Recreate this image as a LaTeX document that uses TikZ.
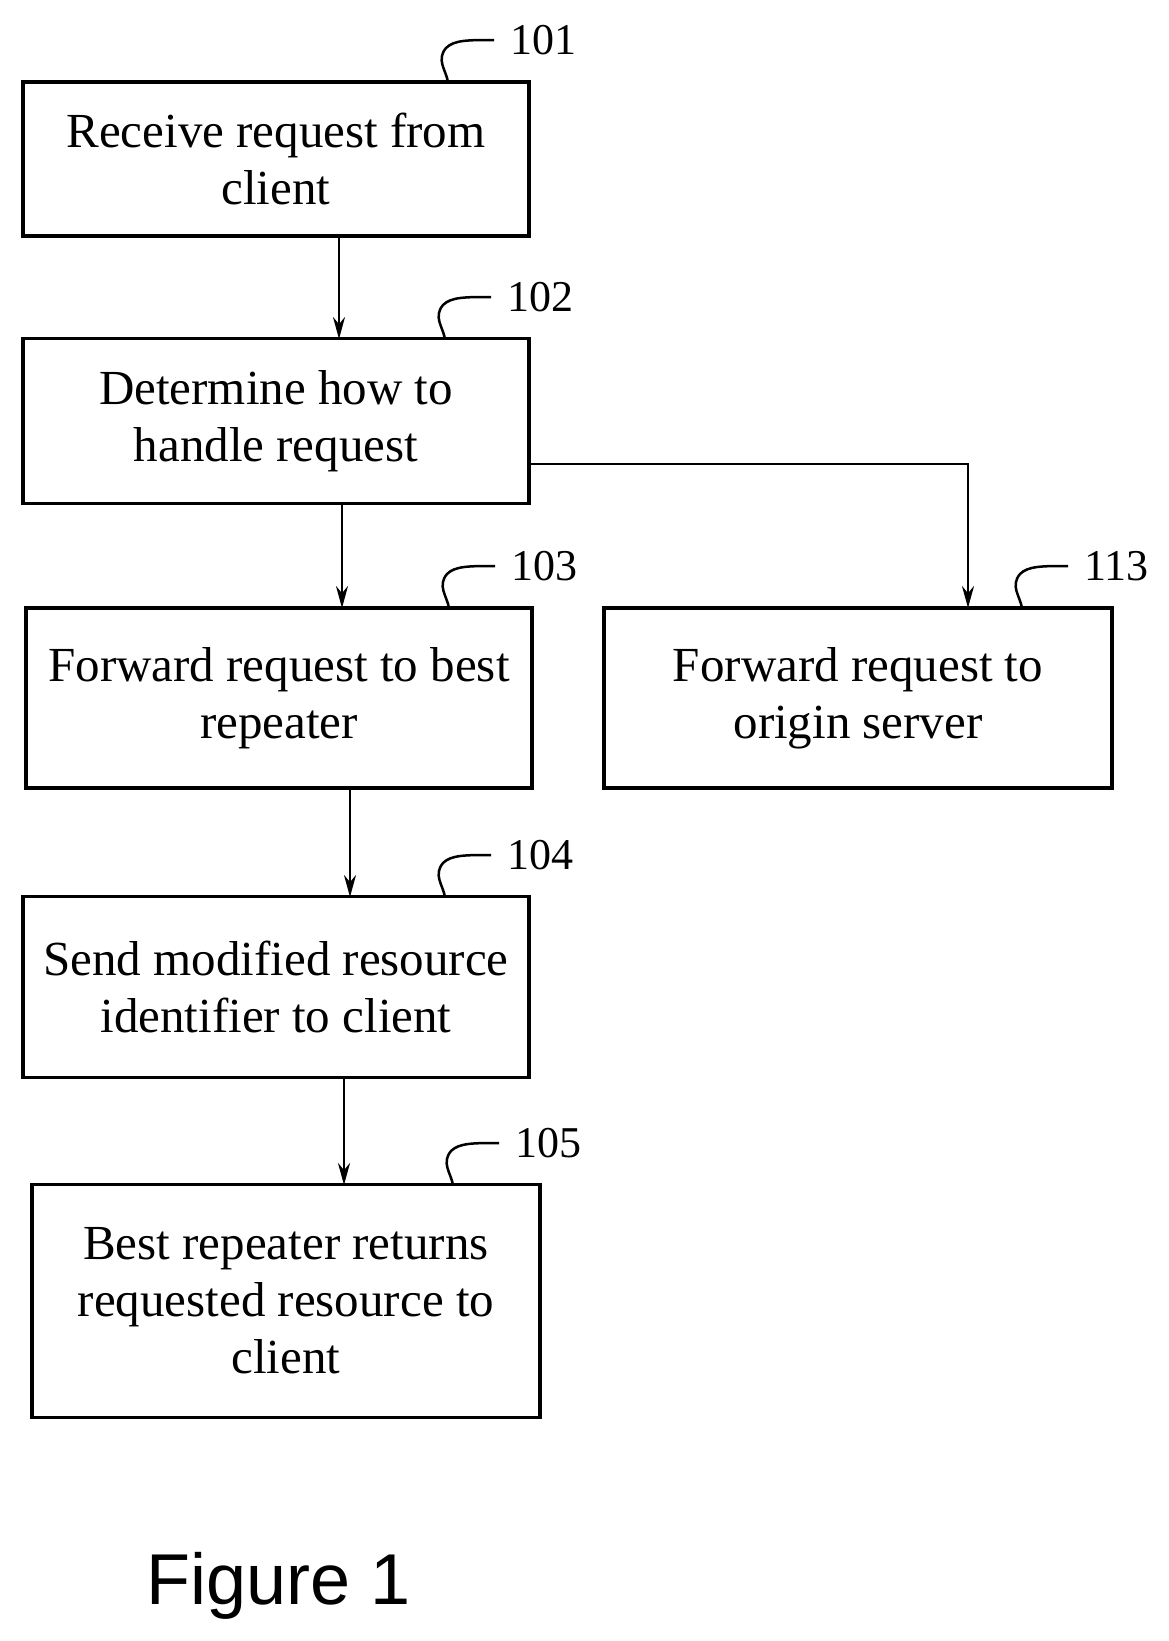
\documentclass[tikz,border=0pt]{standalone}
\usepackage{fontspec}
\usetikzlibrary{arrows.meta}
\setmainfont{Liberation Serif}
\setsansfont{Liberation Sans}
\begin{document}
\begin{tikzpicture}[x=1pt,y=-1pt,
 box/.style={draw,line width=3.5pt,inner sep=0pt,align=center,font=\fontsize{49}{57}\selectfont},
 arr/.style={line width=2.5pt,-{Stealth[length=22pt,width=12pt]}},
 lab/.style={font=\fontsize{44}{44}\selectfont,anchor=west,inner sep=0pt}]
\useasboundingbox (0,0) rectangle (1168,1641);
\node[box,minimum width=506pt,minimum height=154pt] (b1) at (276,159) {Receive request from\\client};
\node[box,minimum width=506pt,minimum height=165pt] (b2) at (276,421) {Determine how to\\handle request};
\node[box,minimum width=506pt,minimum height=180pt] (b3) at (279,698) {Forward request to best\\repeater};
\node[box,minimum width=508pt,minimum height=180pt] (b6) at (858,698) {Forward request to\\origin server};
\node[box,minimum width=506pt,minimum height=181pt] (b4) at (276,987) {Send modified resource\\identifier to client};
\node[box,minimum width=508pt,minimum height=233pt] (b5) at (286,1301) {Best repeater returns\\requested resource to\\client};
\draw[arr] (339,236) -- (339,339);
\draw[arr] (342,504) -- (342,608);
\draw[arr] (350,788) -- (350,897);
\draw[arr] (344,1078) -- (344,1185);
\coordinate (c1) at (529,464);
\coordinate (c2) at (968,464);
\draw[arr] (c1) -- (c2) -- (968,608);
\foreach \n/\x/\y/\t in {l1/448/82/101,l2/445/339/102,l3/449/608/103,l6/1022/608/113,l4/445/897/104,l5/453/1185/105}{
 \node[lab] (\n) at (\x+62,\y-42) {\t};
 \draw[line width=2.5pt] (\x,\y) .. controls (\x-2,\y-12) and (\x-12,\y-22) .. (\x-2,\y-34) .. controls (\x+6,\y-42) and (\x+20,\y-42) .. (\x+46,\y-42);
}
\node[font=\sffamily\fontsize{72}{72}\selectfont] (fig) at (279,1586) {Figure 1};
\end{tikzpicture}
\end{document}
